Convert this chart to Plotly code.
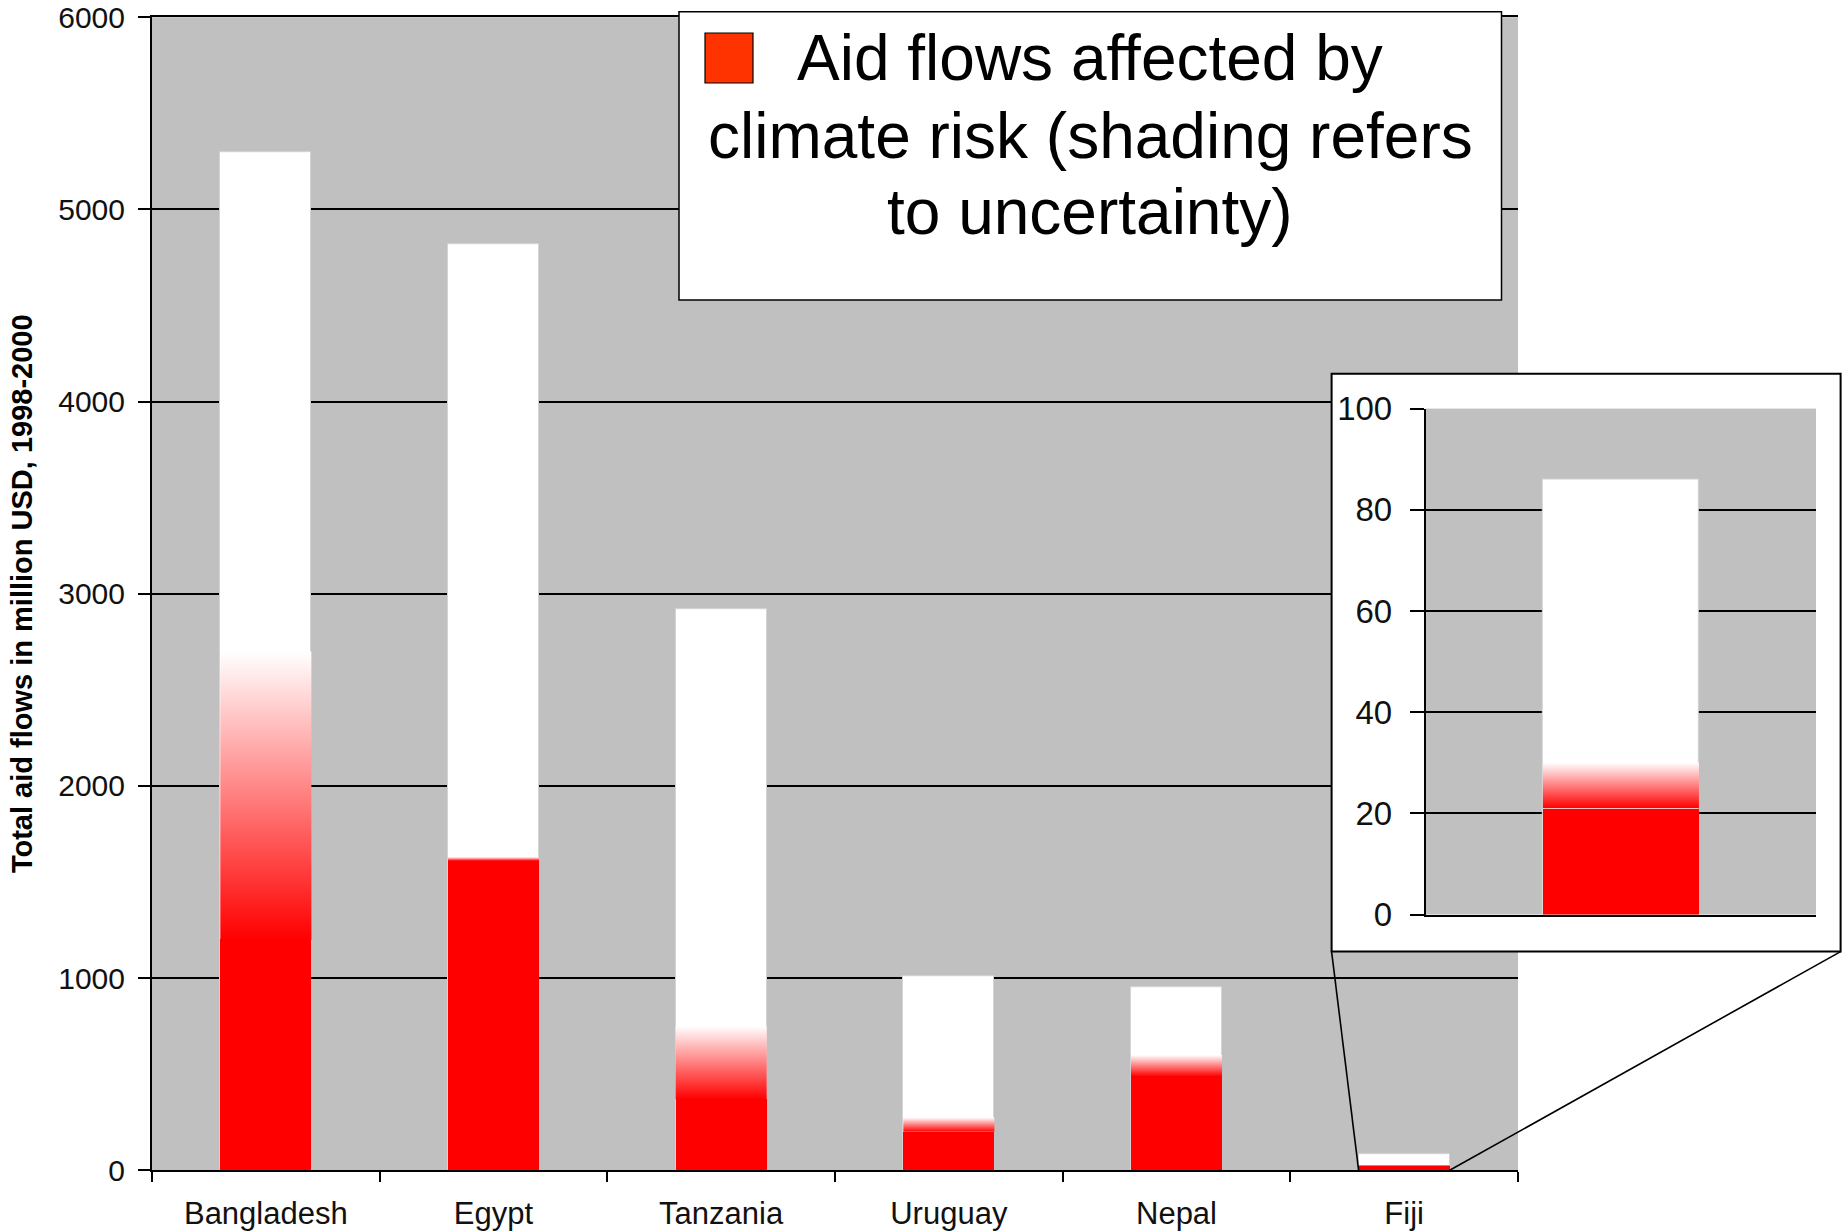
import plotly.graph_objects as go

# ---- data ----
countries = ["Bangladesh", "Egypt", "Tanzania", "Uruguay", "Nepal", "Fiji"]
total_aid = [5300, 4820, 2920, 1010, 955, 86]          # total aid flows, million USD
affected_low = [1200, 1610, 370, 200, 488, 21]         # solid part: aid flows affected by climate risk
affected_high = [2700, 1630, 750, 275, 600, 30]        # upper end of the uncertainty shading
main_ticks = [0, 1000, 2000, 3000, 4000, 5000, 6000]
inset_ticks = [0, 20, 40, 60, 80, 100]
inset_country = "Fiji"

legend_lines = ["Aid flows affected by", "climate risk (shading refers", "to uncertainty)"]
y_title = "Total aid flows in million USD, 1998-2000"

# ---- geometry (pixels on a 1845 x 1232 page) ----
W, H = 1845, 1232
BAR_W = 0.4
GRAY = "#c0c0c0"
RED = "#ff0000"
FONT = "Liberation Sans, Arial, sans-serif"

MAIN_X = (152, 1518)
MAIN_Y = (17.2, 1170.3)
BOX_X = (1331.6, 1840.6)
BOX_Y = (373.8, 951.6)
INSET_X = (1425.8, 1816.0)
INSET_Y = (408.6, 914.5)
LEG_X = (679, 1501.5)
LEG_Y = (11.8, 300)
SWATCH_X = (705, 753)
SWATCH_Y = (33, 83)
LEG_CENTER_X = 1090.0
LEG_BASELINES = [80, 158, 234]
LEG_FONT = 64


def px(x):
    return x / W


def py(y):
    return 1 - y / H


def xdom(a):
    return [px(a[0]), px(a[1])]


def ydom(a):
    return [py(a[1]), py(a[0])]


def gradient_band(xc, lo, hi, xa, ya):
    """Red-to-white vertical shading between lo and hi over one bar."""
    h = BAR_W / 2
    return go.Scatter(
        x=[xc - h, xc + h, xc + h, xc - h, xc - h],
        y=[lo, lo, hi, hi, lo],
        fill="toself",
        mode="lines",
        line=dict(width=0, color="rgba(0,0,0,0)"),
        fillcolor=RED,
        fillgradient=dict(type="vertical",
                          colorscale=[[0, "rgb(255,0,0)"], [1, "rgb(255,255,255)"]]),
        hoverinfo="skip",
        showlegend=False,
        xaxis=xa, yaxis=ya,
    )


positions = list(range(len(countries)))
fig = go.Figure()

# main chart: white total bar, solid red affected part, shaded uncertainty
fig.add_trace(go.Bar(x=positions, y=total_aid, width=BAR_W,
                     marker=dict(color="white", line=dict(color="#d4d4d4", width=1)),
                     hovertext=countries, showlegend=False))
fig.add_trace(go.Bar(x=positions, y=affected_low, width=BAR_W,
                     marker=dict(color=RED, line=dict(width=0)),
                     hovertext=countries, showlegend=False))
for i in positions:
    fig.add_trace(gradient_band(i, affected_low[i], affected_high[i], "x", "y"))

# frame subplot holding the white inset panel
fig.add_trace(go.Scatter(x=[], y=[], xaxis="x2", yaxis="y2",
                         hoverinfo="skip", showlegend=False))

# inset: zoom on the smallest country
k = countries.index(inset_country)
fig.add_trace(go.Bar(x=[0], y=[total_aid[k]], width=BAR_W, xaxis="x3", yaxis="y3",
                     marker=dict(color="white", line=dict(color="#d4d4d4", width=1)),
                     hovertext=[inset_country], showlegend=False))
fig.add_trace(go.Bar(x=[0], y=[affected_low[k]], width=BAR_W, xaxis="x3", yaxis="y3",
                     marker=dict(color=RED, line=dict(width=0)),
                     hovertext=[inset_country], showlegend=False))
fig.add_trace(gradient_band(0, affected_low[k], affected_high[k], "x3", "y3"))

n = len(countries)
fig.update_layout(
    width=W, height=H,
    autosize=False,
    margin=dict(l=0, r=0, t=0, b=0, pad=0, autoexpand=False),
    paper_bgcolor="white",
    plot_bgcolor=GRAY,
    barmode="overlay",
    bargap=0,
    font=dict(family=FONT, color="#111111"),
    showlegend=False,
    xaxis=dict(
        domain=xdom(MAIN_X), anchor="y", automargin=False,
        range=[-0.5, n - 0.5],
        tickmode="array", tickvals=positions, ticktext=countries,
        ticks="", ticklabelstandoff=14,
        tickfont=dict(family=FONT, size=31, color="#111111"),
        showline=True, linecolor="black", linewidth=2, mirror=True,
        showgrid=False, zeroline=False,
        minor=dict(tickmode="array", tickvals=[p - 0.5 for p in range(n + 1)],
                   ticks="outside", ticklen=10, tickwidth=2, tickcolor="black",
                   showgrid=False),
        fixedrange=True,
    ),
    yaxis=dict(
        domain=ydom(MAIN_Y), anchor="x", automargin=False,
        range=[main_ticks[0], main_ticks[-1]],
        tickmode="array", tickvals=main_ticks,
        ticks="outside", ticklen=12, tickwidth=2, tickcolor="black",
        ticklabelstandoff=7, ticklabeloverflow="allow",
        tickfont=dict(family=FONT, size=30, color="#111111"),
        showline=True, linecolor="black", linewidth=2,
        showgrid=True, gridcolor="black", gridwidth=2,
        zeroline=False,
        title=dict(text="<b>" + y_title + "</b>", standoff=17,
                   font=dict(family=FONT, size=29, color="black")),
        fixedrange=True,
    ),
    xaxis2=dict(domain=xdom(BOX_X), anchor="y2", range=[0, 1], visible=False,
                automargin=False, fixedrange=True),
    yaxis2=dict(domain=ydom(BOX_Y), anchor="x2", range=[0, 1], visible=False,
                automargin=False, fixedrange=True),
    xaxis3=dict(
        domain=xdom(INSET_X), anchor="y3", range=[-0.5, 0.5], automargin=False,
        showticklabels=False, ticks="",
        showline=True, linecolor="black", linewidth=2,
        showgrid=False, zeroline=False, fixedrange=True,
    ),
    yaxis3=dict(
        domain=ydom(INSET_Y), anchor="x3", automargin=False,
        range=[inset_ticks[0], inset_ticks[-1]],
        tickmode="array", tickvals=inset_ticks,
        ticks="outside", ticklen=14, tickwidth=2, tickcolor="black",
        ticklabelstandoff=11, ticklabeloverflow="allow",
        tickfont=dict(family=FONT, size=33, color="#111111"),
        showline=True, linecolor="black", linewidth=2,
        showgrid=True, gridcolor="black", gridwidth=2,
        zeroline=False, fixedrange=True,
    ),
)


def bar_edge_paper(idx, side):
    """Paper x of a bar edge on the main category axis."""
    frac = (idx + side * BAR_W / 2 + 0.5) / n
    d = xdom(MAIN_X)
    return d[0] + frac * (d[1] - d[0])


base_y = ydom(MAIN_Y)[0]
shapes = [
    # white inset panel (sits inside the frame subplot, above the main grid)
    dict(type="rect", xref="x2", yref="y2", x0=0, x1=1, y0=0, y1=1,
         fillcolor="white", line=dict(width=0), layer="below"),
    # inset frame outline
    dict(type="rect", xref="paper", yref="paper",
         x0=px(BOX_X[0]), x1=px(BOX_X[1]), y0=py(BOX_Y[1]), y1=py(BOX_Y[0]),
         line=dict(color="black", width=2), fillcolor="rgba(0,0,0,0)", layer="above"),
    # connectors from the inset frame down to the Fiji bar
    dict(type="line", xref="paper", yref="paper",
         x0=px(BOX_X[0]), y0=py(BOX_Y[1]), x1=bar_edge_paper(k, -1), y1=base_y,
         line=dict(color="black", width=1.6), layer="above"),
    dict(type="line", xref="paper", yref="paper",
         x0=px(BOX_X[1]), y0=py(BOX_Y[1]), x1=bar_edge_paper(k, 1), y1=base_y,
         line=dict(color="black", width=1.6), layer="above"),
    # legend box and swatch
    dict(type="rect", xref="paper", yref="paper",
         x0=px(LEG_X[0]), x1=px(LEG_X[1]), y0=py(LEG_Y[1]), y1=py(LEG_Y[0]),
         fillcolor="white", line=dict(color="black", width=1.5), layer="above"),
    dict(type="rect", xref="paper", yref="paper",
         x0=px(SWATCH_X[0]), x1=px(SWATCH_X[1]), y0=py(SWATCH_Y[1]), y1=py(SWATCH_Y[0]),
         fillcolor="#ff3300", line=dict(color="black", width=1.2), layer="above"),
]
fig.update_layout(shapes=shapes)

# legend text, one centred line per annotation
for line, base in zip(legend_lines, LEG_BASELINES):
    fig.add_annotation(
        x=px(LEG_CENTER_X), y=py(base - 0.3465 * LEG_FONT),
        xref="paper", yref="paper", xanchor="center", yanchor="middle",
        text=line, showarrow=False,
        font=dict(family=FONT, size=LEG_FONT, color="black"),
    )

fig.write_html("out.html")
